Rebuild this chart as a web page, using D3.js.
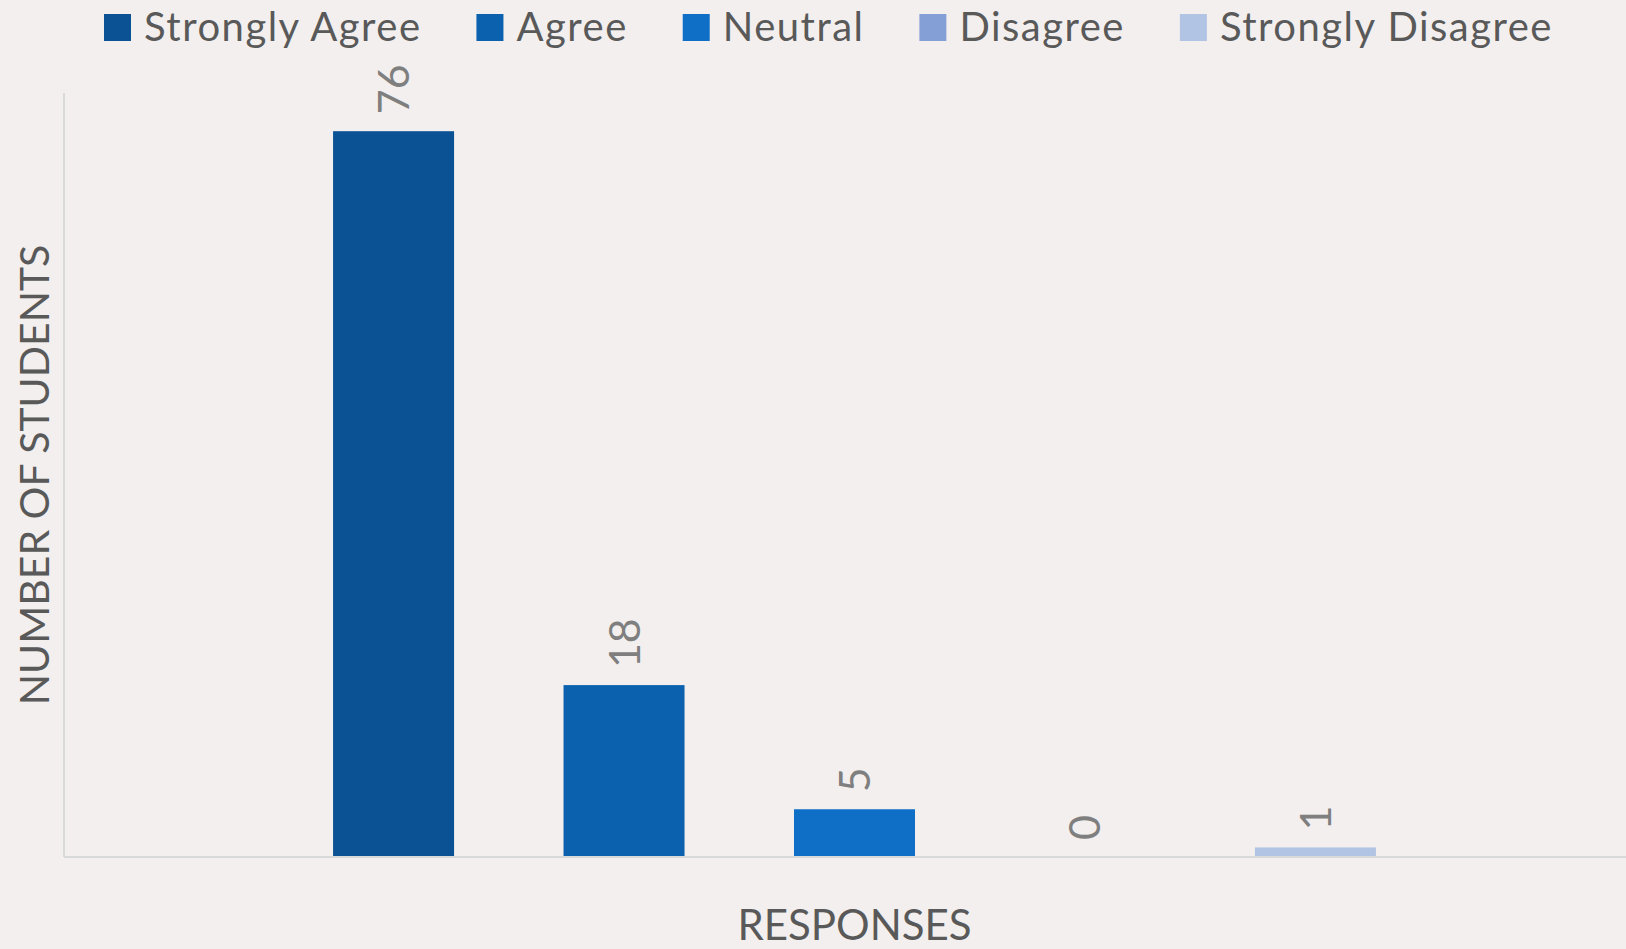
<!DOCTYPE html>
<html>
<head>
<meta charset="utf-8">
<script src="https://cdn.jsdelivr.net/npm/d3@7"></script>
<style>
  html, body { margin: 0; padding: 0; background: #F2EFEE; }
  svg { display: block; }
  text { font-family: Lato, "Open Sans", sans-serif; }
</style>
</head>
<body>
<div id="chart"></div>
<script>
// ---- data ----
const category = ["Responses"];
const seriesNames = ["Strongly Agree", "Agree", "Neutral", "Disagree", "Strongly Disagree"];
const seriesValues = [76, 18, 5, 0, 1];
const seriesColors = ["#0A5294", "#0B61AD", "#0F6FC6", "#849FD6", "#B2C4E3"];
const yDomain = [0, 80];
const xTitle = "RESPONSES";
const yTitle = "NUMBER OF STUDENTS";

// ---- layout ----
const W = 1626, H = 949;
const plot = { left: 64, right: 1645, top: 93, bottom: 857 };

const svg = d3.select("#chart").append("svg")
  .attr("width", W).attr("height", H);
svg.append("rect").attr("width", W).attr("height", H).attr("fill", "#F2EFEE");

const x0 = d3.scaleBand().domain(category).range([plot.left, plot.right])
  .paddingInner(0).paddingOuter(0.186);
const x1 = d3.scaleBand().domain(seriesNames).range([0, x0.bandwidth()])
  .paddingInner(0.475).paddingOuter(0.2375);
const y = d3.scaleLinear().domain(yDomain).range([plot.bottom, plot.top]);

const data = seriesNames.map((s, i) => ({ name: s, value: seriesValues[i], color: seriesColors[i] }));

// axes lines
svg.append("line")
  .attr("x1", plot.left).attr("x2", plot.left)
  .attr("y1", y(yDomain[1])).attr("y2", y(0))
  .attr("stroke", "#D9D9D9").attr("stroke-width", 2);

// bars
const g = svg.append("g").attr("transform", `translate(${x0(category[0])},0)`);
g.selectAll("rect.bar").data(data).enter().append("rect")
  .attr("class", "bar")
  .attr("x", d => x1(d.name))
  .attr("width", x1.bandwidth())
  .attr("y", d => y(d.value))
  .attr("height", d => y(0) - y(d.value))
  .attr("fill", d => d.color);

svg.append("line")
  .attr("x1", plot.left).attr("x2", W)
  .attr("y1", y(0)).attr("y2", y(0))
  .attr("stroke", "#D9D9D9").attr("stroke-width", 2);

// data labels (rotated)
g.selectAll("text.lbl").data(data).enter().append("text")
  .attr("class", "lbl")
  .attr("transform", d => `translate(${x1(d.name) + x1.bandwidth() / 2},${y(d.value) - 17}) rotate(-90)`)
  .attr("dy", "0.36em")
  .attr("text-anchor", "start")
  .attr("font-size", 43)
  .attr("fill", "#7F7F7F")
  .text(d => d.value);

// axis titles
svg.append("text")
  .attr("x", (plot.left + plot.right) / 2)
  .attr("y", 940)
  .attr("text-anchor", "middle")
  .attr("font-size", 42)
  .attr("fill", "#595959")
  .text(xTitle);

svg.append("text")
  .attr("transform", `translate(34.5,${(plot.top + plot.bottom) / 2}) rotate(-90)`)
  .attr("dy", "0.36em")
  .attr("text-anchor", "middle")
  .attr("font-size", 41)
  .attr("fill", "#595959")
  .text(yTitle);

// legend
const legend = svg.append("g");
const items = legend.selectAll("g.item").data(data).enter().append("g").attr("class", "item");
items.append("rect").attr("width", 27).attr("height", 27).attr("y", 14).attr("fill", d => d.color);
items.append("text").attr("x", 40).attr("y", 41)
  .attr("font-size", 40).attr("letter-spacing", "1.5px")
  .attr("fill", "#595959").text(d => d.name);
let widths = [];
items.each(function() { widths.push(this.getBBox().width); });
const legendStart = 104, legendEnd = 1553;
const gap = (legendEnd - legendStart - d3.sum(widths)) / (widths.length - 1);
let cx = legendStart;
items.attr("transform", (d, i) => {
  const t = `translate(${cx},0)`;
  cx += widths[i] + gap;
  return t;
});
</script>
</body>
</html>
